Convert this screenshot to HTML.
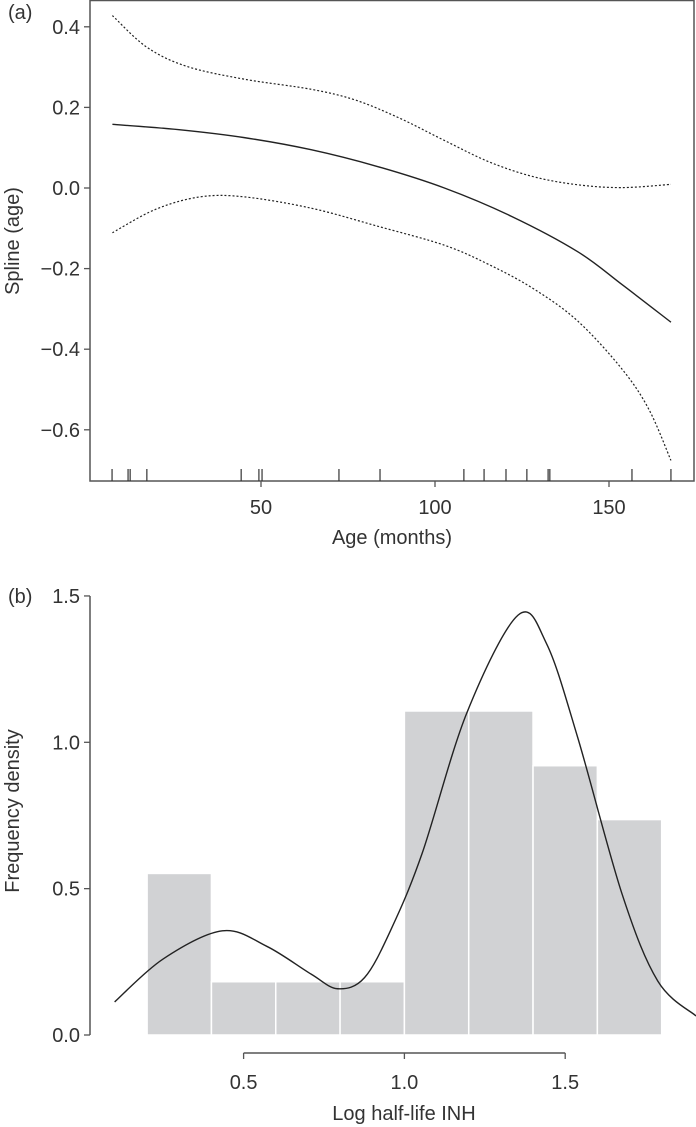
<!DOCTYPE html>
<html><head><meta charset="utf-8"><style>
body{margin:0;background:#fff;}
svg{display:block;font-family:"Liberation Sans",sans-serif;}
text{fill:#333;font-size:20px;}
</style></head><body>
<svg width="696" height="1127" viewBox="0 0 696 1127">
<g id="pa"></g>
<g id="pb"></g>
</svg>
<script>
// Panel (a) data
const ageFit=[7.3,26.1,45.2,64.4,83.6,102.7,121.9,141,153.8,167.8];
const splineFit=[0.158,0.145,0.125,0.095,0.053,0,-0.07,-0.158,-0.24,-0.333];
const ageUpper=[7.3,17.1,28.6,45.2,64.4,77.2,89.9,102.7,115.5,128.3,141,153.8,167.8];
const splineUpper=[0.428,0.35,0.302,0.27,0.245,0.218,0.173,0.118,0.065,0.028,0.008,0.001,0.009];
const ageLower=[7.3,19.7,32.5,45.2,64.4,83.6,102.7,115.5,128.3,141,153.8,161.5,167.8];
const splineLower=[-0.111,-0.053,-0.022,-0.022,-0.05,-0.095,-0.142,-0.19,-0.25,-0.33,-0.45,-0.55,-0.676];
const rugAges=[7.2,11.8,12.4,17.2,44.3,49.4,50.3,72.4,84.2,108.3,114.1,120.4,126.4,132.5,133.0,156.6,167.8];
const aYTicks=[0.4,0.2,0.0,-0.2,-0.4,-0.6];
const aYLabels=["0.4","0.2","0.0","\u22120.2","\u22120.4","\u22120.6"];
const aXTicks=[50,100,150];
// Panel (b) data
const binEdges=[0.2,0.4,0.6,0.8,1.0,1.2,1.4,1.6,1.8];
const binDensity=[0.552,0.182,0.182,0.182,1.107,1.107,0.92,0.736];
const kdeX=[0.099,0.25,0.434,0.572,0.710,0.793,0.876,0.959,1.055,1.194,1.353,1.442,1.539,1.677,1.788,1.907];
const kdeY=[0.113,0.26,0.356,0.303,0.208,0.158,0.196,0.362,0.620,1.100,1.434,1.337,1.016,0.481,0.184,0.065];
const bYTicks=[0,0.5,1.0,1.5];
const bYLabels=["0.0","0.5","1.0","1.5"];
const bXTicks=[0.5,1.0,1.5];
const bXLabels=["0.5","1.0","1.5"];

const NS="http://www.w3.org/2000/svg";
function mk(parent,tag,attrs,txt){const e=document.createElementNS(NS,tag);for(const k in attrs)e.setAttribute(k,attrs[k]);if(txt!=null)e.textContent=txt;parent.appendChild(e);return e;}
function smooth(pts){let d="M"+pts[0][0]+","+pts[0][1];for(let i=0;i<pts.length-1;i++){const p0=pts[i-1]||pts[i],p1=pts[i],p2=pts[i+1],p3=pts[i+2]||p2;
const c1=[p1[0]+(p2[0]-p0[0])/6,p1[1]+(p2[1]-p0[1])/6],c2=[p2[0]-(p3[0]-p1[0])/6,p2[1]-(p3[1]-p1[1])/6];
d+=" C"+c1[0]+","+c1[1]+" "+c2[0]+","+c2[1]+" "+p2[0]+","+p2[1];}return d;}

// Panel a
const A=document.getElementById('pa');
const ax=v=>87+3.48*v, ay=v=>188-403*v;
let e;
e=mk(A,'rect',{x:90,y:0.5,width:604,height:480.5,fill:'none',stroke:'#555','stroke-width':1.5});


e=mk(A,'text',{x:8,y:19},"(a)");


aYTicks.forEach((v,i)=>{const y=ay(v);
 mk(A,'line',{x1:84,x2:90,y1:y,y2:y,stroke:'#555','stroke-width':1.3});
 e=mk(A,'text',{x:80,y:y+7,'text-anchor':'end'},aYLabels[i]);
 
 });
aXTicks.forEach(v=>{const x=ax(v);
 mk(A,'line',{x1:x,x2:x,y1:481,y2:487,stroke:'#555','stroke-width':1.3});
 e=mk(A,'text',{x:x,y:514,'text-anchor':'middle'},String(v));
 
 });
rugAges.forEach(v=>{const x=ax(v);
 e=mk(A,'line',{x1:x,x2:x,y1:469,y2:481,stroke:'#333','stroke-width':1.2});
 
 });
e=mk(A,'text',{x:392,y:544,'text-anchor':'middle'},"Age (months)");


e=mk(A,'text',{x:0,y:0,'text-anchor':'middle',transform:'translate(19,241) rotate(-90)'},"Spline (age)");


e=mk(A,'path',{d:smooth(ageFit.map((a,i)=>[ax(a),ay(splineFit[i])])),fill:'none',stroke:'#222','stroke-width':1.4});


e=mk(A,'path',{d:smooth(ageUpper.map((a,i)=>[ax(a),ay(splineUpper[i])])),fill:'none',stroke:'#222','stroke-width':1.2,'stroke-dasharray':'2,2'});


e=mk(A,'path',{d:smooth(ageLower.map((a,i)=>[ax(a),ay(splineLower[i])])),fill:'none',stroke:'#222','stroke-width':1.2,'stroke-dasharray':'2,2'});



// Panel b
const B=document.getElementById('pb');
const bx=v=>82.8+321.6*v, by=v=>1035-292.7*v;
binDensity.forEach((d,i)=>{const x0=bx(binEdges[i]),x1=bx(binEdges[i+1]);
 e=mk(B,'rect',{x:x0,y:by(d),width:x1-x0,height:by(0)-by(d),fill:'#d1d2d4',stroke:'#fff','stroke-width':1.5});
 
 });
e=mk(B,'path',{d:smooth(kdeX.map((x,i)=>[bx(x),by(kdeY[i])])),fill:'none',stroke:'#222','stroke-width':1.4});


mk(B,'line',{x1:90,x2:90,y1:by(1.5),y2:by(0),stroke:'#555','stroke-width':1.5});
bYTicks.forEach((v,i)=>{const y=by(v);
 mk(B,'line',{x1:84,x2:90,y1:y,y2:y,stroke:'#555','stroke-width':1.3});
 e=mk(B,'text',{x:80,y:y+7,'text-anchor':'end'},bYLabels[i]);
 
 });
mk(B,'line',{x1:bx(0.5),x2:bx(1.5),y1:1053,y2:1053,stroke:'#555','stroke-width':1.5});
bXTicks.forEach((v,i)=>{const x=bx(v);
 mk(B,'line',{x1:x,x2:x,y1:1053,y2:1059,stroke:'#555','stroke-width':1.3});
 e=mk(B,'text',{x:x,y:1089,'text-anchor':'middle'},bXLabels[i]);
 
 });
e=mk(B,'text',{x:8,y:603},"(b)");


e=mk(B,'text',{x:404,y:1120,'text-anchor':'middle'},"Log half-life INH");


e=mk(B,'text',{x:0,y:0,'text-anchor':'middle',transform:'translate(19,811) rotate(-90)'},"Frequency density");


</script>
</body></html>
